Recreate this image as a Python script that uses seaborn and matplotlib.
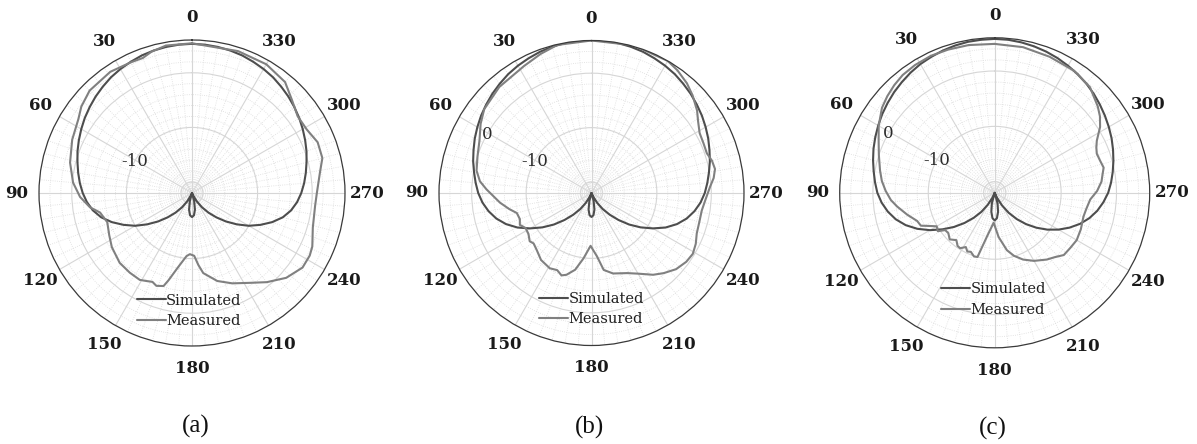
import numpy as np
import matplotlib
matplotlib.use("Agg")
import matplotlib.pyplot as plt
import seaborn as sns

sns.set_theme(style="white")
plt.rcParams['font.family'] = ['DejaVu Serif', 'DejaVu Sans']

# ---------------------------------------------------------------- data (dB)
angle_ticks = list(range(0, 360, 30))
radial_min, radial_max = -22, 6

sim_angles = list(range(0, 361, 5))

sim_a = [5.3, 5.25, 5.15, 5.0, 4.8, 4.5, 4.2, 3.85, 3.4, 2.95, 2.45, 1.95, 1.4, 0.85, 0.3, -0.3, -0.85, -1.4,
         -2.0, -2.7, -3.6, -4.8, -6.4, -8.2, -10.0, -12.0, -13.9, -15.7, -17.3, -18.8, -20.2, -21.5, -23.0, -20.5,
         -18.9, -17.9, -17.6, -17.9, -18.9, -20.5, -23.0, -21.5, -20.2, -18.8, -17.3, -15.7, -13.9, -12.0, -10.0,
         -8.2, -6.4, -4.8, -3.6, -2.7, -2.0, -1.4, -0.85, -0.3, 0.3, 0.85, 1.4, 1.95, 2.45, 2.95, 3.4, 3.85, 4.2,
         4.5, 4.8, 5.0, 5.15, 5.25, 5.3]

sim_b = [6.1, 6.05, 5.95, 5.8, 5.6, 5.3, 5.0, 4.65, 4.2, 3.75, 3.25, 2.75, 2.2, 1.65, 1.05, 0.5, -0.1, -0.65,
         -1.2, -1.9, -2.8, -3.9, -5.3, -7.0, -9.0, -11.0, -13.0, -15.0, -16.8, -18.4, -19.9, -21.3, -23.0, -20.5,
         -18.9, -17.9, -17.6, -17.9, -18.9, -20.5, -23.0, -21.3, -19.9, -18.4, -16.8, -15.0, -13.0, -11.0, -9.0,
         -7.0, -5.3, -3.9, -2.8, -1.9, -1.2, -0.65, -0.1, 0.5, 1.05, 1.65, 2.2, 2.75, 3.25, 3.75, 4.2, 4.65, 5.0,
         5.3, 5.6, 5.8, 5.95, 6.05, 6.1]

sim_c = [5.8, 5.75, 5.7, 5.55, 5.35, 5.1, 4.85, 4.5, 4.1, 3.7, 3.25, 2.8, 2.3, 1.8, 1.3, 0.75, 0.2, -0.3,
         -0.8, -1.5, -2.4, -3.5, -4.9, -6.6, -8.5, -10.5, -12.4, -14.3, -16.1, -17.8, -19.5, -21.0, -23.0, -20.0,
         -18.5, -17.4, -17.0, -17.4, -18.5, -20.0, -23.0, -21.0, -19.4, -17.6, -15.8, -14.0, -12.2, -10.4, -8.7,
         -7.1, -5.6, -4.3, -3.2, -2.3, -1.5, -0.9, -0.35, 0.2, 0.75, 1.3, 1.8, 2.3, 2.8, 3.3, 3.75, 4.15, 4.5,
         4.85, 5.15, 5.4, 5.6, 5.75, 5.8]

meas_a_angles = [0, 10, 16, 20, 25, 34, 45, 52, 57, 66, 76, 85, 92, 98, 102, 109, 117, 124, 134, 142, 149, 153,
                 156, 159, 163, 165, 169, 175, 178, 182, 185, 188, 196, 204, 213, 220, 228, 236, 242, 246, 254,
                 264, 270, 279, 285, 292, 299, 306, 313, 320, 330, 342, 360]
meas_a = [5.4, 5.4, 4.9, 4.3, 4.4, 4.75, 4.5, 3.7, 2.8, 2.0, 1.0, -0.15, -1.5, -3.15, -4.8, -5.6, -5.0, -4.3,
          -3.6, -3.5, -3.45, -3.9, -4.2, -3.8, -4.2, -5.5, -8.0, -10.4, -10.8, -10.5, -8.8, -7.2, -5.25, -3.9,
          -2.4, -0.7, 1.2, 2.4, 2.4, 2.1, 1.0, 0.65, 0.85, 1.7, 2.7, 2.8, 2.0, 1.9, 3.0, 4.5, 5.2, 5.3, 5.4]

meas_b_angles = [0, 13, 20, 28, 41, 52, 58, 65, 72, 79, 84, 88, 96, 101, 105, 110, 114, 118, 123, 128, 131, 136,
                 143, 151, 156, 160, 163, 168, 173, 179, 185, 189, 195, 204, 210, 217, 222, 228, 234, 239, 244,
                 249, 255, 261, 267, 273, 277, 281, 285, 289, 294, 299, 304, 308, 314, 319, 325, 330, 344, 360]
meas_b = [6.0, 5.9, 5.2, 4.4, 3.8, 3.0, 2.0, 0.7, 0.0, -0.5, -1.4, -2.7, -5.1, -6.6, -7.8, -8.0, -7.6, -8.3,
          -8.2, -7.6, -7.9, -7.5, -6.6, -6.2, -6.5, -5.9, -6.3, -7.6, -9.9, -12.3, -10.3, -7.7, -6.7, -5.9, -4.9,
          -3.2, -2.2, -1.1, -0.5, -0.3, -0.7, -1.3, -1.5, -1.5, -1.0, -0.2, 0.6, 1.1, 0.9, 0.4, 0.5, 0.7, 1.6,
          2.6, 3.8, 4.7, 5.5, 6.0, 6.2, 6.0]

meas_c_angles = [0, 10, 18, 25, 32, 38, 43, 48, 53, 60, 66, 72, 79, 84, 89, 94, 98, 104, 110, 114, 117, 120, 124,
                 127, 131, 136, 141, 145, 148, 152, 155, 158, 162, 165, 170, 178, 185, 192, 197, 203, 210, 218,
                 223, 228, 234, 240, 247, 255, 260, 266, 271, 276, 280, 283, 287, 291, 294, 297, 302, 306, 310,
                 318, 327, 338, 349, 360]
meas_c = [4.9, 5.1, 5.2, 5.3, 5.2, 5.0, 4.6, 4.1, 3.5, 2.2, 0.95, 0.0, -0.9, -1.5, -2.3, -3.2, -4.2, -5.7, -7.1,
          -7.4, -8.8, -9.9, -9.6, -10.8, -10.9, -10.3, -11.0, -10.3, -10.2, -10.9, -10.3, -10.5, -9.9, -10.0,
          -14.0, -16.6, -14.0, -11.4, -10.1, -8.9, -7.8, -6.7, -6.1, -5.2, -5.1, -4.9, -5.1, -5.4, -5.2, -4.7,
          -3.5, -2.6, -2.2, -1.8, -2.1, -2.25, -1.9, -1.3, 0.45, 1.5, 2.3, 3.7, 4.3, 4.5, 4.8, 4.9]

panels = [
    ("(a)", sim_a, meas_a_angles, meas_a, [-10]),
    ("(b)", sim_b, meas_b_angles, meas_b, [-10, 0]),
    ("(c)", sim_c, meas_c_angles, meas_c, [-10, 0]),
]

# ---------------------------------------------------------------- layout
W, H = 1197, 444
fig = plt.figure(figsize=(W / 100, H / 100), dpi=100)
fig.patch.set_facecolor("white")

boxes = [  # centre x, centre y, radius in pixels
    (192.0, 193.0, 153.0),
    (591.5, 193.0, 152.5),
    (994.7, 192.8, 155.0),
]
legend_anchor = [(0.49, 0.115), (0.50, 0.12), (0.496, 0.155)]
caption_xy = [(196, 426), (590, 427), (993, 428)]

sim_color = "#4d4d4d"
meas_color = "#808080"

for (cap, sim, m_ang, meas, rlabels), (cx, cy, rad), anc, (tx, ty) in zip(panels, boxes, legend_anchor, caption_xy):
    ax = fig.add_axes([(cx - rad) / W, (H - cy - rad) / H, 2 * rad / W, 2 * rad / H], projection="polar")
    ax.set_theta_zero_location("N")
    ax.set_theta_direction(1)

    sns.lineplot(x=np.deg2rad(sim_angles), y=np.clip(sim, radial_min, None), ax=ax, sort=False,
                 estimator=None, color=sim_color, linewidth=1.5, label="Simulated")
    sns.lineplot(x=np.deg2rad(m_ang), y=np.clip(meas, radial_min, None), ax=ax, sort=False,
                 estimator=None, color=meas_color, linewidth=1.5, label="Measured")

    ax.set_rlim(radial_min, radial_max)
    ax.set_thetagrids(angle_ticks, labels=[str(a) for a in angle_ticks],
                      fontsize=12, fontweight="bold", color="#1a1a1a")
    ax.set_xticks(np.deg2rad(np.arange(0, 360, 5)), minor=True)
    ax.set_yticks([-20, -10, 0])
    ax.set_yticks(np.arange(-22, 6.1, 2), minor=True)
    ax.set_yticklabels([])
    ax.set_xlabel("")
    ax.set_ylabel("")
    ax.grid(True, which="major", color="#d6d6d6", linewidth=0.8, linestyle="-")
    ax.grid(True, which="minor", color="#dcdcdc", linewidth=0.6, linestyle=":")
    ax.tick_params(which="both", length=0)
    ax.tick_params(axis="x", pad=9)
    ax.spines["polar"].set_color("#3a3a3a")
    ax.spines["polar"].set_linewidth(0.9)

    for rv in rlabels:
        ax.text(np.deg2rad(61), rv, str(rv), ha="center", va="center", fontsize=12, color="#2b2b2b")

    leg = ax.legend(loc="center", bbox_to_anchor=anc, frameon=False, fontsize=10.5,
                    handlelength=2.0, handletextpad=0.0, labelspacing=0.45, borderpad=0)
    for t in leg.get_texts():
        t.set_color("#1f1f1f")

    fig.text(tx / W, 1 - ty / H, cap, ha="center", va="center", fontsize=18,
             family=["Liberation Serif", "DejaVu Serif"], color="#111111")

fig.savefig("out.png", dpi=100, facecolor="white")
